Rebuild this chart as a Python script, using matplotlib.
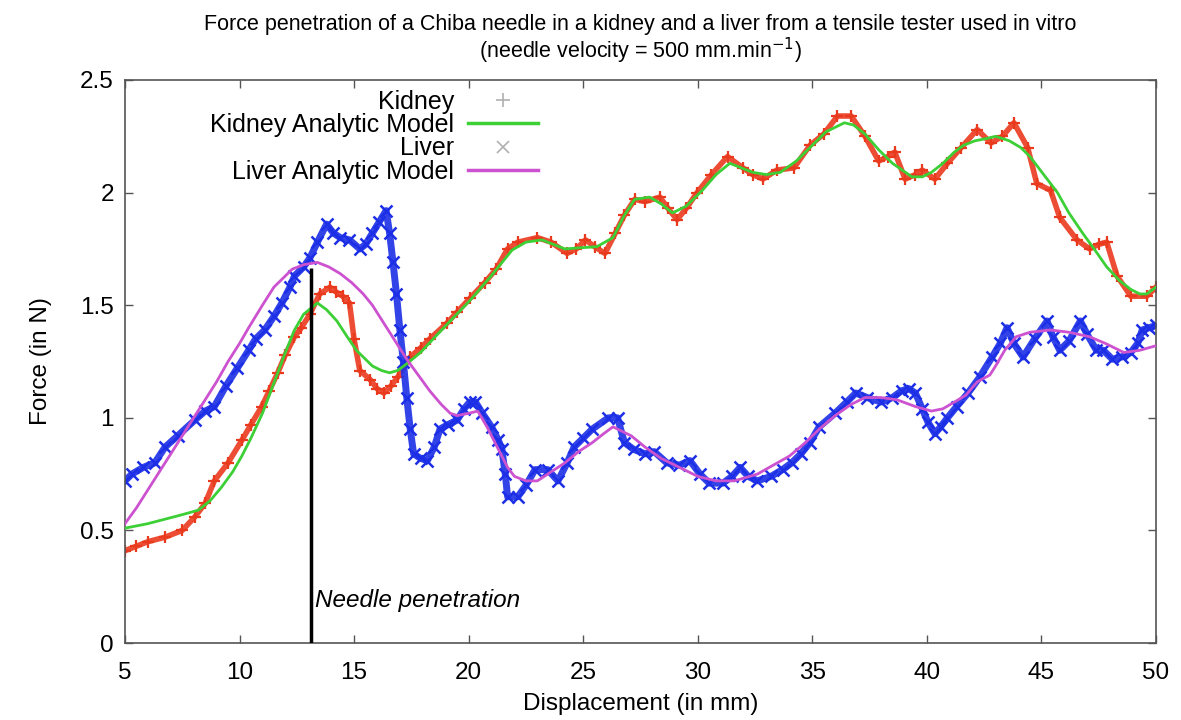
import numpy as np
import matplotlib.pyplot as plt
from matplotlib.lines import Line2D

plt.rcParams['font.family'] = ['Liberation Sans', 'DejaVu Sans']

# ----------------
# data
# ----------------
kidney_x = [5.0, 5.5, 6.0, 6.75, 7.5, 8.05, 8.5, 8.9, 9.5, 10.1, 10.5, 10.97, 11.3, 11.67,
            12.0, 12.4, 12.7, 13.07, 13.5, 13.95, 14.2, 14.5, 14.8, 15.0, 15.25, 15.7, 16.0,
            16.3, 16.6, 16.9, 17.45, 17.9, 18.3, 19.05, 19.5, 20.05, 20.7, 21.2, 21.7, 22.15,
            23.0, 23.6, 24.3, 24.7, 25.1, 25.5, 25.95, 26.4, 26.8, 27.25, 27.7, 28.35, 28.7,
            29.1, 29.5, 29.97, 30.6, 31.3, 31.97, 32.4, 32.85, 33.45, 34.2, 34.9, 35.5, 36.1,
            36.7, 37.3, 37.9, 38.3, 38.6, 39.05, 39.5, 39.8, 40.35, 40.9, 41.5, 42.2, 42.8,
            43.3, 43.8, 44.4, 44.8, 45.4, 45.8, 46.55, 47.1, 47.5, 47.85, 48.3, 48.9, 49.6, 50.0]
kidney_f = [0.41, 0.43, 0.45, 0.47, 0.50, 0.56, 0.62, 0.72, 0.80, 0.90, 0.97, 1.05, 1.12, 1.20,
            1.28, 1.36, 1.40, 1.46, 1.55, 1.58, 1.56, 1.54, 1.51, 1.35, 1.21, 1.17, 1.13,
            1.11, 1.14, 1.18, 1.27, 1.31, 1.35, 1.42, 1.47, 1.53, 1.60, 1.66, 1.75, 1.78,
            1.80, 1.78, 1.73, 1.75, 1.79, 1.76, 1.73, 1.82, 1.90, 1.97, 1.96, 1.98, 1.93,
            1.88, 1.93, 2.00, 2.08, 2.16, 2.11, 2.08, 2.06, 2.10, 2.11, 2.21, 2.26, 2.34,
            2.34, 2.25, 2.14, 2.16, 2.18, 2.06, 2.08, 2.10, 2.06, 2.13, 2.20, 2.28, 2.22,
            2.25, 2.31, 2.20, 2.04, 2.01, 1.89, 1.79, 1.75, 1.77, 1.78, 1.63, 1.54, 1.54, 1.58]

kidney_model_x = [5.0, 6.0, 6.75, 7.5, 8.2, 8.7, 9.2, 9.7, 10.1, 10.5, 11.0, 11.3, 11.67, 12.0,
                  12.4, 12.8, 13.4, 13.8, 14.25, 14.7, 15.1, 15.5, 15.8, 16.2, 16.55, 16.9, 17.3,
                  17.9, 18.45, 19.2, 20.05, 20.9, 21.9, 22.5, 23.2, 23.7, 24.2, 24.9, 25.6, 26.3,
                  26.8, 27.25, 27.9, 28.4, 28.9, 29.5, 30.2, 30.8, 31.4, 31.9, 32.4, 33.0, 33.6,
                  34.3, 34.9, 35.6, 36.4, 36.8, 37.3, 37.9, 38.5, 39.35, 39.8, 40.2, 40.7, 41.2,
                  41.6, 42.1, 42.6, 43.0, 43.6, 44.1, 44.5, 45.1, 45.7, 46.2, 46.8, 47.3, 47.85,
                  48.4, 48.9, 49.3, 49.6, 50.0]
kidney_model_f = [0.51, 0.53, 0.55, 0.57, 0.59, 0.63, 0.69, 0.76, 0.83, 0.91, 1.02, 1.10, 1.20, 1.29,
                  1.39, 1.46, 1.51, 1.48, 1.43, 1.36, 1.30, 1.26, 1.23, 1.21, 1.20, 1.21, 1.24,
                  1.29, 1.35, 1.43, 1.52, 1.62, 1.745, 1.78, 1.79, 1.77, 1.75, 1.755, 1.76, 1.80,
                  1.90, 1.97, 1.98, 1.95, 1.91, 1.94, 2.01, 2.08, 2.13, 2.11, 2.09, 2.08, 2.09,
                  2.14, 2.20, 2.27, 2.31, 2.30, 2.26, 2.19, 2.13, 2.07, 2.07, 2.09, 2.13, 2.18,
                  2.21, 2.23, 2.24, 2.25, 2.23, 2.20, 2.16, 2.08, 2.00, 1.91, 1.82, 1.75, 1.67,
                  1.61, 1.57, 1.55, 1.55, 1.58]

liver_x = [5.0, 5.3, 5.8, 6.3, 6.75, 7.3, 8.05, 8.5, 8.9, 9.4, 9.9, 10.4, 10.7, 11.1, 11.5,
           11.85, 12.2, 12.4, 12.8, 13.07, 13.4, 13.8, 14.1, 14.4, 14.8, 15.25, 15.5, 15.8,
           16.1, 16.4, 16.55, 16.7, 16.85, 17.0, 17.15, 17.3, 17.45, 17.6, 17.9, 18.2, 18.5,
           18.75, 19.1, 19.5, 19.8, 20.05, 20.3, 20.6, 21.0, 21.3, 21.45, 21.6, 21.7, 22.15,
           22.5, 22.9, 23.45, 23.9, 24.3, 24.6, 25.0, 25.4, 26.1, 26.5, 26.8, 27.2, 27.7,
           28.1, 28.65, 29.2, 29.66, 30.1, 30.5, 31.1, 31.5, 31.85, 32.2, 32.6, 33.2, 33.7,
           34.1, 34.5, 34.9, 35.3, 35.99, 36.5, 36.9, 37.4, 38.0, 38.5, 38.9, 39.2, 39.5,
           39.8, 40.05, 40.35, 40.6, 40.9, 41.3, 41.8, 42.3, 42.85, 43.2, 43.5, 43.8, 44.2,
           44.7, 45.25, 45.5, 45.8, 46.2, 46.7, 47.0, 47.4, 47.7, 48.1, 48.5, 48.9, 49.2,
           49.4, 49.7, 50.0]
liver_f = [0.72, 0.75, 0.78, 0.80, 0.87, 0.92, 0.99, 1.03, 1.05, 1.14, 1.22, 1.30, 1.35, 1.39, 1.45,
           1.51, 1.58, 1.63, 1.67, 1.71, 1.78, 1.86, 1.82, 1.80, 1.79, 1.75, 1.77, 1.82,
           1.87, 1.92, 1.82, 1.69, 1.55, 1.39, 1.25, 1.09, 0.95, 0.84, 0.82, 0.81, 0.87,
           0.95, 0.97, 0.99, 1.04, 1.07, 1.07, 1.02, 0.96, 0.90, 0.86, 0.75, 0.65, 0.65,
           0.70, 0.77, 0.77, 0.72, 0.80, 0.87, 0.91, 0.95, 1.00, 1.00, 0.89, 0.86, 0.84,
           0.85, 0.80, 0.79, 0.81, 0.75, 0.71, 0.71, 0.74, 0.78, 0.74, 0.72, 0.74, 0.77,
           0.80, 0.84, 0.89, 0.96, 1.02, 1.07, 1.11, 1.09, 1.07, 1.09, 1.12, 1.13, 1.11,
           1.04, 0.98, 0.93, 0.96, 1.00, 1.05, 1.11, 1.18, 1.27, 1.33, 1.40, 1.33, 1.27,
           1.35, 1.43, 1.36, 1.30, 1.34, 1.43, 1.37, 1.30, 1.30, 1.26, 1.27, 1.29, 1.33,
           1.39, 1.40, 1.41]

liver_model_x = [5.0, 5.5, 6.0, 6.75, 7.5, 8.0, 8.5, 9.0, 9.5, 10.0, 10.4, 11.0, 11.5, 12.0,
                 12.3, 12.8, 13.4, 13.9, 14.4, 14.9, 15.4, 15.8, 16.3, 16.8, 17.3, 17.8, 18.3,
                 18.8, 19.2, 19.5, 20.0, 20.4, 20.8, 21.3, 21.7, 22.0, 22.5, 23.0, 23.6, 24.2,
                 24.8, 25.4, 25.9, 26.3, 26.7, 27.1, 27.7, 28.4, 29.2, 30.0, 30.8, 31.6, 32.6,
                 33.3, 34.0, 34.7, 35.3, 36.0, 36.7, 37.3, 38.0, 38.7, 39.5, 40.2, 40.7, 41.2,
                 41.7, 42.2, 42.75, 43.0, 43.4, 43.9, 44.5, 45.4, 46.2, 47.1, 47.8, 48.6, 49.3,
                 50.0]
liver_model_f = [0.53, 0.60, 0.68, 0.80, 0.92, 1.00, 1.08, 1.16, 1.25, 1.33, 1.40, 1.50, 1.58, 1.63,
                 1.66, 1.68, 1.69, 1.67, 1.64, 1.60, 1.55, 1.50, 1.42, 1.34, 1.26, 1.19, 1.12,
                 1.06, 1.02, 1.01, 1.02, 1.03, 0.96, 0.86, 0.78, 0.74, 0.72, 0.72, 0.76, 0.80,
                 0.85, 0.89, 0.93, 0.96, 0.94, 0.92, 0.87, 0.82, 0.78, 0.74, 0.72, 0.72, 0.75,
                 0.79, 0.83, 0.89, 0.95, 1.01, 1.06, 1.09, 1.09, 1.08, 1.05, 1.03, 1.04, 1.07,
                 1.10, 1.16, 1.19, 1.23, 1.30, 1.36, 1.38, 1.39, 1.38, 1.36, 1.33, 1.29, 1.30,
                 1.32]

needle_x = 13.1
needle_f = 1.665

x_ticks = [5, 10, 15, 20, 25, 30, 35, 40, 45, 50]
y_ticks = [0, 0.5, 1, 1.5, 2, 2.5]
y_tick_labels = ["0", "0.5", "1", "1.5", "2", "2.5"]

# ----------
# colours
# ----------
RED = "#ea3a1e"
BLUE = "#1c2fe6"
GREEN = "#3ccf36"
MAGENTA = "#cc52d0"

# ----------
# Plot
# ----------
fig = plt.figure(figsize=(11.81, 7.2), dpi=100)
ax = fig.add_axes([0.1058, 0.1069, 0.8730, 0.782])

# measured data: thick band + markers
ax.plot(kidney_x, kidney_f, color=RED, lw=4, alpha=0.9, zorder=2)
ax.plot(kidney_x, kidney_f, ls="none", marker="+", ms=9, mew=1.6, color=RED, zorder=2)
ax.plot(liver_x, liver_f, color=BLUE, lw=5, alpha=0.9, zorder=2)
ax.plot(liver_x, liver_f, ls="none", marker="x", ms=8, mew=1.8, color=BLUE, zorder=2)

# analytic models
ax.plot(kidney_model_x, kidney_model_f, color=GREEN, lw=2, zorder=3)
ax.plot(liver_model_x, liver_model_f, color=MAGENTA, lw=2, zorder=3)

# needle penetration marker
ax.vlines(needle_x, 0, needle_f, color="black", lw=2.5, zorder=4)
ax.text(needle_x + 0.2, 0.19, "Needle penetration", style="italic", fontsize=17.5,
        ha="left", va="center")

ax.set_xlim(5, 50)
ax.set_ylim(0, 2.5)
ax.set_xticks(x_ticks)
ax.set_xticklabels([str(t) for t in x_ticks])
ax.set_yticks(y_ticks)
ax.set_yticklabels(y_tick_labels)
ax.tick_params(direction="in", top=True, right=True, length=6, width=1,
               color="#555555", labelsize=17.5)
ax.tick_params(axis="x", pad=14)
ax.tick_params(axis="y", pad=8)
for sp in ax.spines.values():
    sp.set_color("#555555")
    sp.set_linewidth(1.2)

ax.set_xlabel("Displacement (in mm)", fontsize=17.5, labelpad=6)
ax.set_ylabel("Force (in N)", fontsize=17.5, labelpad=20)
ax.set_title("Force penetration of a Chiba needle in a kidney and a liver from a tensile tester used in vitro\n"
             "(needle velocity = 500 mm.min$^{-1}$)", fontsize=15.5, pad=16, linespacing=1.0)

handles = [
    Line2D([], [], ls="none", marker="+", ms=10, mew=1.2, color="#b0b0b0"),
    Line2D([], [], color=GREEN, lw=2.5),
    Line2D([], [], ls="none", marker="x", ms=9, mew=1.2, color="#b0b0b0"),
    Line2D([], [], color=MAGENTA, lw=2.5),
]
labels = ["Kidney", "Kidney Analytic Model", "Liver", "Liver Analytic Model"]
ax.legend(handles, labels, loc="upper right", bbox_to_anchor=(0.41, 1.0), frameon=False,
          markerfirst=False, fontsize=18, handlelength=2.8, labelspacing=-0.03,
          handletextpad=0.55, borderaxespad=0.0, borderpad=0.4)

fig.savefig("out.png", dpi=100)
plt.close(fig)
